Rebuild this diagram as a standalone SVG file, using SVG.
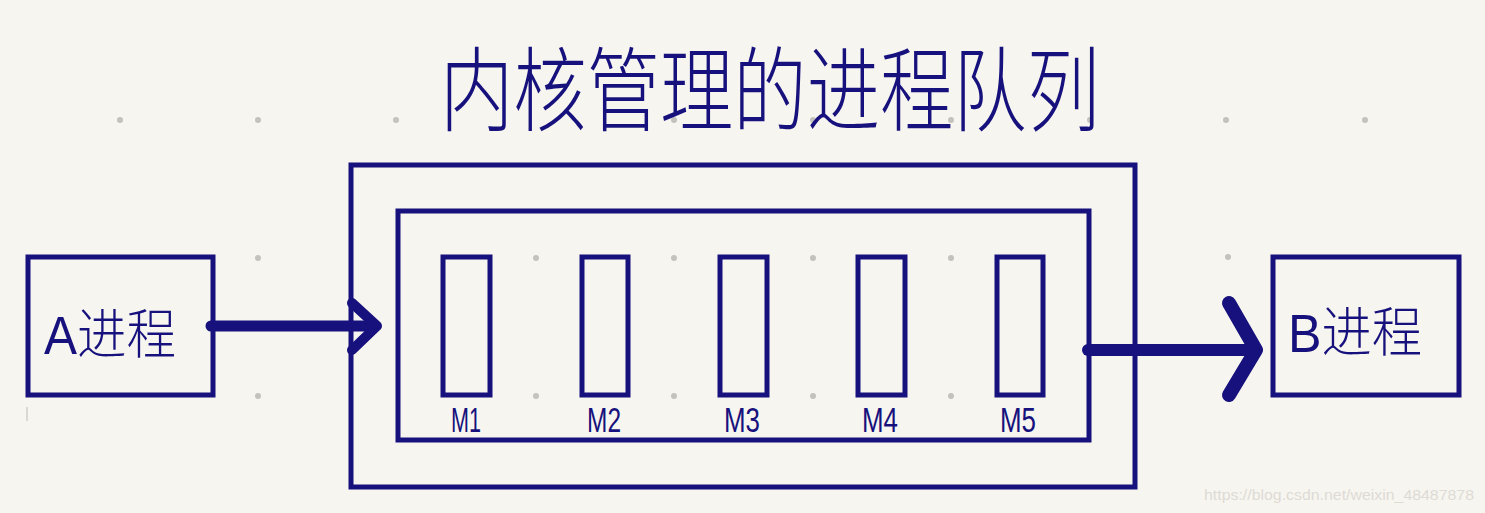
<svg xmlns="http://www.w3.org/2000/svg" width="1485" height="513" viewBox="0 0 1485 513">
<style>
.box{fill:none;stroke:#16117c;stroke-width:5;stroke-linejoin:miter}
.dot{fill:#c4c2bd}
.hand{fill:#16117c;font-family:"Liberation Sans","Noto Sans CJK SC",sans-serif;font-weight:300}
.ml{fill:#16117c;font-family:"Liberation Sans Narrow","Liberation Sans",sans-serif;font-size:35px;font-weight:300;text-anchor:middle}
.arrow{fill:none;stroke:#16117c;stroke-linecap:round;stroke-linejoin:round}
</style>
<rect x="0" y="0" width="1485" height="513" fill="#f7f5f0"/>
<g id="grid">
<circle class="dot" cx="120" cy="120" r="3"/><circle class="dot" cx="258" cy="120" r="3"/><circle class="dot" cx="396" cy="120" r="3"/>
<circle class="dot" cx="1226" cy="120" r="3"/><circle class="dot" cx="1365" cy="120" r="3"/>
<circle class="dot" cx="674" cy="120" r="3"/><circle class="dot" cx="813" cy="120" r="3"/><circle class="dot" cx="951" cy="120" r="3"/><circle class="dot" cx="1090" cy="120" r="3"/>
<circle class="dot" cx="258" cy="258" r="3"/><circle class="dot" cx="536" cy="258" r="3"/><circle class="dot" cx="674" cy="258" r="3"/><circle class="dot" cx="813" cy="258" r="3"/><circle class="dot" cx="951" cy="258" r="3"/><circle class="dot" cx="1228" cy="257" r="3"/>
<circle class="dot" cx="258" cy="396" r="3"/><circle class="dot" cx="536" cy="396" r="3"/><circle class="dot" cx="674" cy="396" r="3"/><circle class="dot" cx="813" cy="396" r="3"/><circle class="dot" cx="951" cy="396" r="3"/><circle class="dot" cx="1226" cy="396" r="3"/>
</g>
<text id="title" class="hand" x="440" y="124" font-size="92" textLength="660" lengthAdjust="spacingAndGlyphs">内核管理的进程队列</text>
<g id="queue-outer"><rect class="box" x="351" y="165" width="784" height="322"/></g>
<g id="queue-inner"><rect class="box" x="398" y="211" width="691" height="229"/></g>
<g id="M1"><rect class="box" x="443" y="257" width="47" height="138"/><text class="ml" x="466" y="432" textLength="30" lengthAdjust="spacingAndGlyphs">M1</text></g>
<g id="M2"><rect class="box" x="582" y="257" width="46" height="138"/><text class="ml" x="604" y="432" textLength="34" lengthAdjust="spacingAndGlyphs">M2</text></g>
<g id="M3"><rect class="box" x="720" y="257" width="47" height="138"/><text class="ml" x="742" y="432" textLength="36" lengthAdjust="spacingAndGlyphs">M3</text></g>
<g id="M4"><rect class="box" x="858" y="257" width="47" height="138"/><text class="ml" x="880" y="432" textLength="36" lengthAdjust="spacingAndGlyphs">M4</text></g>
<g id="M5"><rect class="box" x="997" y="257" width="46" height="138"/><text class="ml" x="1018" y="432" textLength="36" lengthAdjust="spacingAndGlyphs">M5</text></g>
<g id="procA"><rect class="box" x="28" y="257" width="185" height="138"/><text class="hand" x="44" y="354" font-size="54" textLength="132" lengthAdjust="spacingAndGlyphs">A进程</text></g>
<g id="procB"><rect class="box" x="1273" y="257" width="186" height="138"/><text class="hand" x="1288" y="352" font-size="54" textLength="134" lengthAdjust="spacingAndGlyphs">B进程</text></g>
<g id="connectors">
<path class="arrow" stroke-width="11" d="M211 326 H375"/>
<path class="arrow" stroke-width="10" d="M352 303 L377 326 L352 350"/>
<path class="arrow" stroke-width="12" d="M1088 350 H1252"/>
<path class="arrow" stroke-width="14" d="M1229 303 L1256 350 L1229 395"/>
</g>
<line x1="27" y1="407" x2="27" y2="421" stroke="#d0cec9" stroke-width="1.5"/>
<text x="1204" y="500" font-family="Liberation Sans,sans-serif" font-size="15" fill="#dedbd5" textLength="270" lengthAdjust="spacingAndGlyphs">https://blog.csdn.net/weixin_48487878</text>
</svg>
